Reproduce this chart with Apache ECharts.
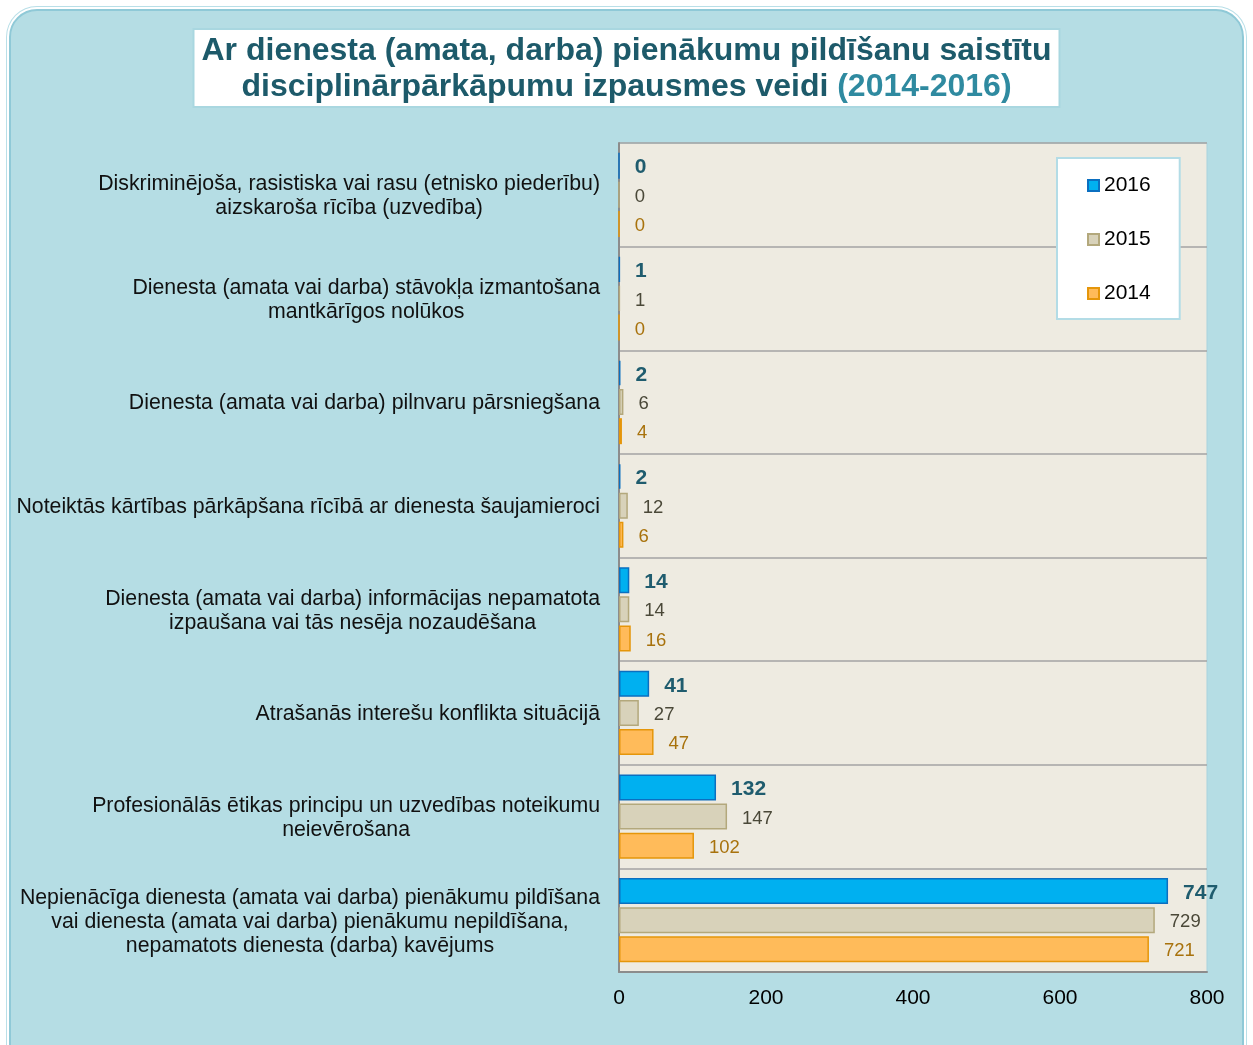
<!DOCTYPE html>
<html>
<head>
    <meta charset="utf-8">
    <title>Disciplinārpārkāpumi</title>
    <script src="https://cdn.jsdelivr.net/npm/echarts@6/dist/echarts.min.js"></script>
    <style>
        body { margin: 0; background: #fff; }
        #frame {
            position: absolute; left: 9px; top: 9px; width: 1231px; height: 1060px;
            background: #b5dde4; border: 2px solid #8fc9d7; border-radius: 28px;
            box-shadow: 0 0 0 2px #fff, 0 0 0 3px #b9dfe8;
        }
        #main { position: absolute; left: 0; top: 0; width: 1253px; height: 1045px; }
    </style>
</head>
<body>
<div id="frame"></div>
<div id="main"></div>
<script type="text/javascript">
    // kategorijas (no augšas uz leju)
    var categories = [
        'Diskriminējoša, rasistiska vai rasu (etnisko piederību)\naizskaroša rīcība (uzvedība)',
        'Dienesta (amata vai darba) stāvokļa izmantošana\nmantkārīgos nolūkos',
        'Dienesta (amata vai darba) pilnvaru pārsniegšana',
        'Noteiktās kārtības pārkāpšana rīcībā ar dienesta šaujamieroci',
        'Dienesta (amata vai darba) informācijas nepamatota\nizpaušana vai tās nesēja nozaudēšana',
        'Atrašanās interešu konflikta situācijā',
        'Profesionālās ētikas principu un uzvedības noteikumu\nneievērošana',
        'Nepienācīga dienesta (amata vai darba) pienākumu pildīšana\nvai dienesta (amata vai darba) pienākumu nepildīšana,\nnepamatots dienesta (darba) kavējums'
    ];
    var years = ['2016', '2015', '2014'];
    var values2016 = [0, 1, 2, 2, 14, 41, 132, 747];
    var values2015 = [0, 1, 6, 12, 14, 27, 147, 729];
    var values2014 = [0, 0, 4, 6, 16, 47, 102, 721];
    var xTicks = [0, 200, 400, 600, 800];

    var font = '"Liberation Sans", Arial, sans-serif';

    function barSeries(name, data, fill, border, labelColor, bold, labelSize) {
        return {
            name: name,
            type: 'bar',
            data: data,
            barWidth: 26,
            barGap: '12%',
            itemStyle: { color: fill, borderColor: border, borderWidth: 1.5 },
            label: {
                show: true,
                position: 'right',
                distance: 15,
                offset: [0, 2],
                color: labelColor,
                fontFamily: font,
                fontSize: labelSize,
                fontWeight: bold ? 'bold' : 'normal'
            }
        };
    }

    var myChart = echarts.init(document.getElementById('main'));
    var option = {
        backgroundColor: 'transparent',
        title: {
            text: '{a|Ar dienesta (amata, darba) pienākumu pildīšanu saistītu}\n{a|disciplinārpārkāpumu izpausmes veidi }{b|(2014-2016)}',
            left: 'center',
            top: 27,
            backgroundColor: '#fff',
            borderColor: '#a9d7e0',
            borderWidth: 2,
            padding: [6, 8, 4, 8],
            textStyle: {
                rich: {
                    a: { fontFamily: font, fontSize: 32, fontWeight: 'bold', color: '#1d5a6a', lineHeight: 36, align: 'center' },
                    b: { fontFamily: font, fontSize: 32, fontWeight: 'bold', color: '#2f8aa0', lineHeight: 36, align: 'center' }
                }
            }
        },
        legend: {
            data: years,
            orient: 'vertical',
            left: 1057,
            top: 158,
            backgroundColor: '#fff',
            borderColor: '#b3dce6',
            borderWidth: 2,
            padding: [17, 29, 15, 30],
            itemGap: 33,
            itemWidth: 11,
            itemHeight: 11,
            icon: 'rect',
            textStyle: { fontFamily: font, fontSize: 21, color: '#000' }
        },
        grid: {
            left: 619,
            right: 46,
            top: 143,
            bottom: 73,
            show: true,
            backgroundColor: '#eeebe1',
            borderColor: '#a9d3dd',
            borderWidth: 1
        },
        xAxis: {
            type: 'value',
            min: xTicks[0],
            max: xTicks[xTicks.length - 1],
            interval: 200,
            splitLine: { show: false },
            axisTick: { show: false },
            axisLine: { show: true, lineStyle: { color: '#8c8c8c', width: 2 } },
            axisLabel: { fontFamily: font, fontSize: 21, color: '#000', margin: 16 }
        },
        yAxis: {
            type: 'category',
            data: categories,
            inverse: true,
            axisTick: { show: false },
            axisLine: { show: true, lineStyle: { color: '#8c8c8c', width: 2 } },
            splitLine: { show: true, lineStyle: { color: '#a3a3a3', width: 1.5 } },
            axisLabel: {
                margin: 19,
                align: 'right',
                formatter: function (v) {
                    return v.split('\n').map(function (l) { return '{c|' + l + '}'; }).join('\n');
                },
                rich: {
                    c: { fontFamily: font, fontSize: 21.3, lineHeight: 24, color: '#111', align: 'center', padding: [3, 0, 0, 0] }
                }
            }
        },
        series: [
            barSeries('2016', values2016, '#00b0f0', '#0b6fc0', '#1f5c6e', true, 21),
            barSeries('2015', values2015, '#d8d2ba', '#b3a87c', '#4a4838', false, 18.5),
            barSeries('2014', values2014, '#ffbb5a', '#e5960a', '#a8720c', false, 18.5)
        ]
    };
    myChart.setOption(option);
</script>
</body>
</html>
